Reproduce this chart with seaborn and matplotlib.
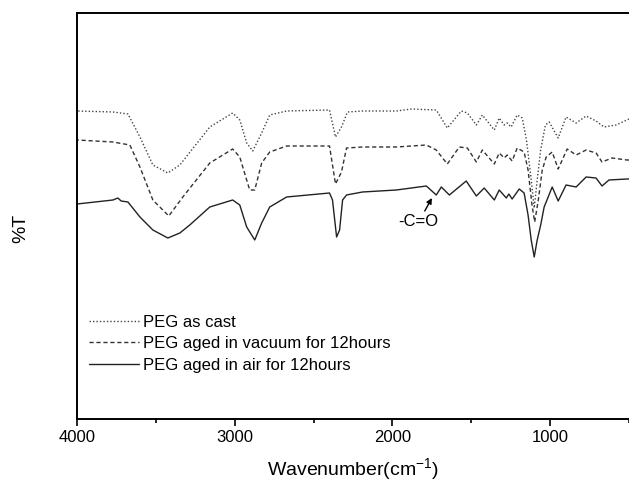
import matplotlib
matplotlib.use("Agg")
import matplotlib.pyplot as plt
import seaborn as sns
from matplotlib.ticker import MultipleLocator

# ---- data (wavenumber in cm^-1, %T in arbitrary units) ----
cast_wn = [4000, 3772, 3677, 3601, 3519, 3424, 3348, 3158, 3013, 2968, 2924, 2886, 2829, 2778,
           2671, 2399, 2361, 2323, 2285, 2190, 1975, 1880, 1722, 1652, 1563, 1525, 1468, 1430,
           1354, 1323, 1291, 1272, 1247, 1209, 1177, 1150, 1120, 1101, 1082, 1060, 1030, 1006,
           949, 899, 835, 772, 709, 658, 582, 513, 500]
cast_t = [308, 307, 305, 282, 254, 246, 254, 292, 306, 299, 276, 268, 286, 304,
          308, 309, 282, 292, 307, 308, 308, 310, 309, 291, 308, 306, 294, 304,
          289, 301, 294, 296, 292, 304, 301, 279, 239, 211, 239, 269, 294, 297,
          281, 302, 296, 303, 298, 292, 294, 299, 300]

vac_wn = [4000, 3772, 3665, 3601, 3519, 3418, 3329, 3158, 3013, 2968, 2905, 2873, 2829, 2778,
          2671, 2399, 2361, 2323, 2291, 2190, 1975, 1785, 1722, 1652, 1576, 1525, 1468, 1430,
          1354, 1323, 1291, 1272, 1241, 1209, 1165, 1140, 1115, 1098, 1075, 1050, 1025, 987,
          949, 892, 835, 772, 709, 671, 608, 513, 500]
vac_t = [279, 277, 274, 252, 219, 203, 222, 256, 270, 262, 229, 229, 256, 267,
         273, 273, 235, 247, 271, 272, 272, 274, 269, 255, 272, 271, 257, 269,
         255, 266, 261, 264, 258, 271, 267, 249, 214, 197, 219, 249, 262, 267,
         250, 270, 264, 269, 266, 257, 261, 259, 259]

air_wn = [4000, 3772, 3741, 3720, 3677, 3601, 3519, 3424, 3348, 3285, 3158, 3013, 2968, 2924,
          2873, 2829, 2778, 2671, 2399, 2380, 2354, 2335, 2316, 2291, 2190, 1975, 1785, 1722,
          1690, 1639, 1532, 1468, 1418, 1354, 1323, 1278, 1262, 1241, 1196, 1165, 1140, 1120,
          1101, 1082, 1060, 1038, 987, 949, 899, 835, 772, 709, 671, 627, 513, 500]
air_t = [215, 219, 221, 218, 217, 202, 189, 181, 186, 194, 212, 219, 214, 192,
         179, 196, 212, 222, 226, 219, 182, 189, 219, 224, 227, 229, 233, 224,
         232, 224, 238, 223, 231, 219, 229, 221, 225, 220, 230, 226, 204, 179,
         162, 179, 194, 212, 232, 218, 234, 232, 242, 241, 233, 239, 240, 240]

labels = ["PEG as cast", "PEG aged in vacuum for 12hours", "PEG aged in air for 12hours"]
xticks = [4000, 3000, 2000, 1000]

# ---- style ----
sns.set_style("ticks")
plt.rcParams["font.family"] = ["Liberation Sans", "DejaVu Sans"]
plt.rcParams["mathtext.default"] = "regular"
plt.rcParams["text.color"] = "black"
plt.rcParams["axes.labelcolor"] = "black"
plt.rcParams["xtick.color"] = "black"

fig = plt.figure(figsize=(6.29, 4.84), dpi=100)
ax = fig.add_axes([77 / 629, 65 / 484, 552 / 629, 406 / 484])

sns.lineplot(x=cast_wn, y=cast_t, ax=ax, color="#444444", lw=1.0, linestyle=(0, (1, 1.5)),
             label=labels[0])
sns.lineplot(x=vac_wn, y=vac_t, ax=ax, color="#333333", lw=1.0, linestyle=(0, (3, 2)),
             label=labels[1])
sns.lineplot(x=air_wn, y=air_t, ax=ax, color="#222222", lw=1.0, linestyle="-",
             label=labels[2])

ax.set_xlim(4000, 500)
ax.set_ylim(0, 406)
ax.set_xticks(xticks)
ax.set_xticklabels([str(t) for t in xticks], fontsize=12)
ax.xaxis.set_minor_locator(MultipleLocator(500))
ax.set_yticks([])
ax.tick_params(axis="x", which="major", direction="out", length=5, width=1.2, pad=3,
               colors="black")
ax.tick_params(axis="x", which="minor", direction="out", length=3, width=1.2, colors="black")

for s in ["left", "bottom", "top"]:
    ax.spines[s].set_linewidth(1.4)
    ax.spines[s].set_color("black")
ax.spines["right"].set_visible(False)

ax.set_xlabel("Wavenumber(cm$^{-1}$)", fontsize=14, labelpad=8, color="black")
ax.set_ylabel("%T", fontsize=14, color="black")
ax.yaxis.set_label_coords(-0.087, 0.47)

ax.text(1835, 197, "-C=O", fontsize=12, ha="center", va="center", color="black")
ax.annotate("", xy=(1750, 221), xytext=(1795, 208),
            arrowprops=dict(arrowstyle="-|>", color="black", lw=1.0,
                            mutation_scale=8, shrinkA=0, shrinkB=0))

leg = ax.legend(loc="upper left", bbox_to_anchor=(0.0, 0.285), frameon=False, fontsize=12,
                handlelength=3.0, handletextpad=0.25, labelspacing=0.38, borderaxespad=0.3)
for t in leg.get_texts():
    t.set_color("black")

fig.savefig("out.png", dpi=100)
